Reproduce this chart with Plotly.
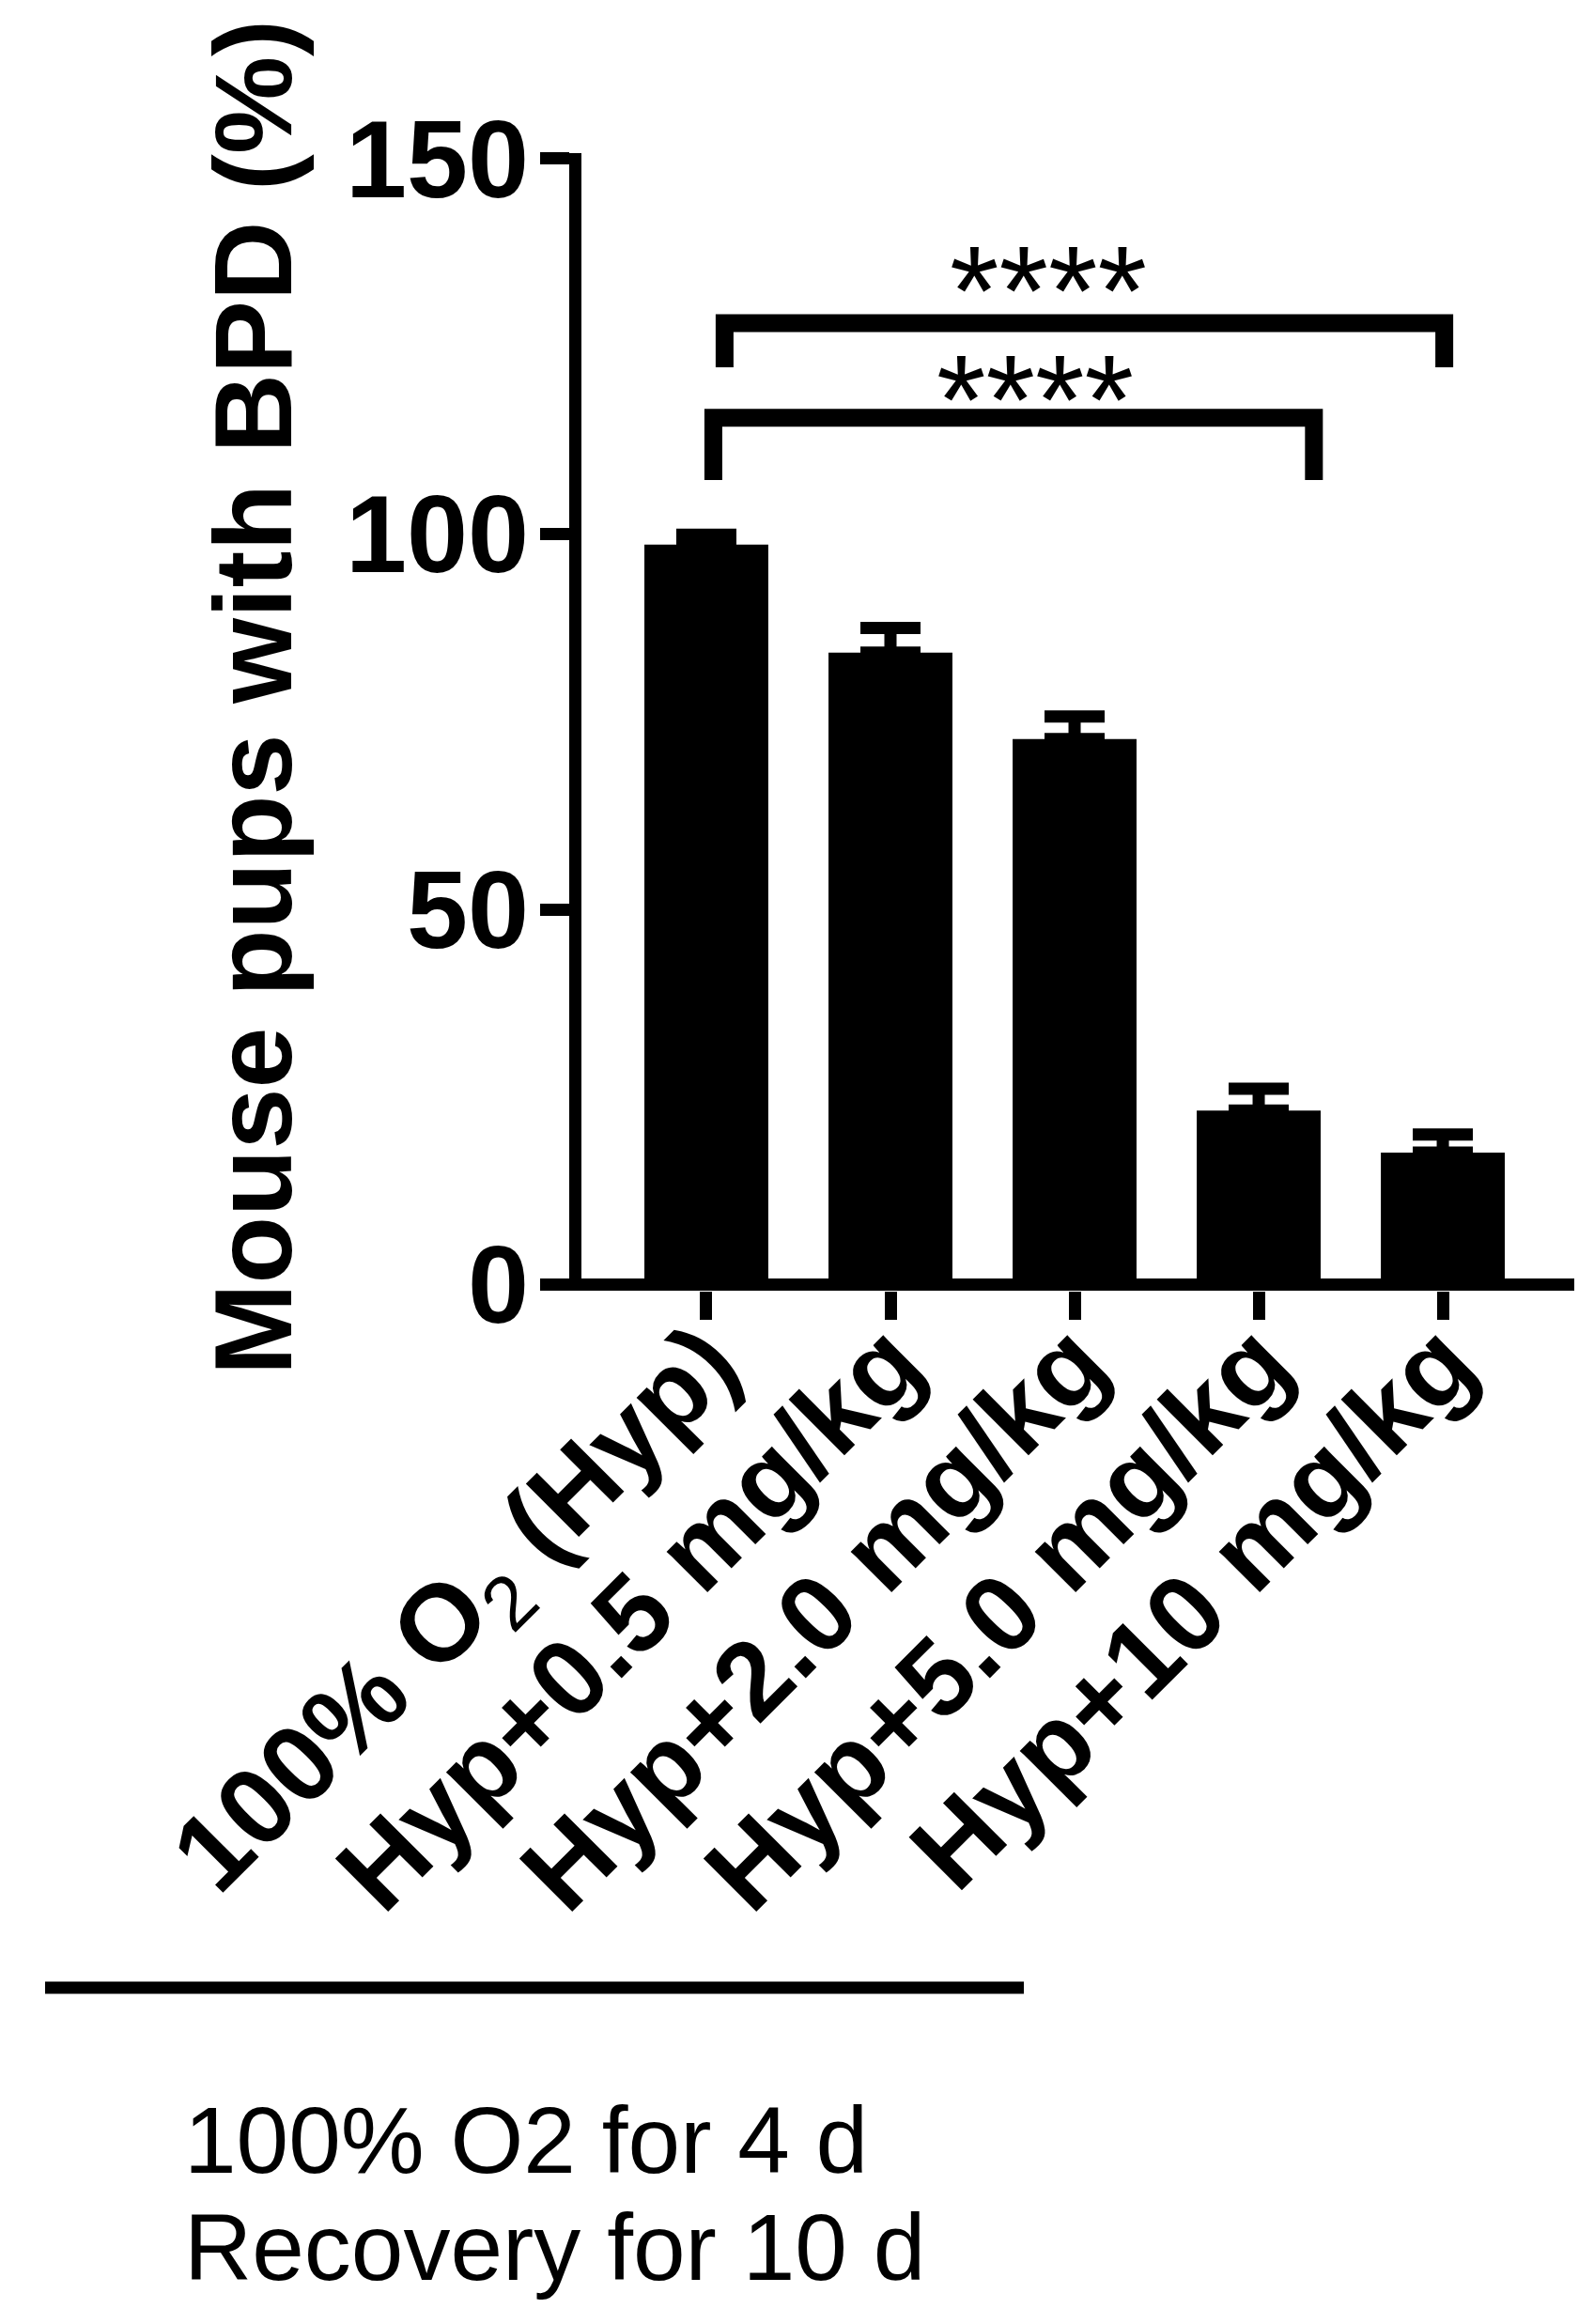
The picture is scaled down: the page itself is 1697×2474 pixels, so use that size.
import plotly.graph_objects as go

groups = ["100% O<sub><span style=\"font-weight:normal\">2</span></sub> (Hyp)",
          "Hyp+0.5 mg/kg", "Hyp+2.0 mg/kg", "Hyp+5.0 mg/kg", "Hyp+10 mg/kg"]
bpd_pct = [98.6, 84.2, 72.7, 23.2, 17.6]
bpd_err = [1.3, 3.3, 3.0, 2.9, 2.4]
y_ticks = [0, 50, 100, 150]
sig_labels = ["****", "****"]
footnote = ["100% O2 for 4 d", "Recovery for 10 d"]

FONT = "Liberation Sans, Arial, sans-serif"
W, H = 1697, 2474
L, R, T, B = 576, 29, 155, 1108
pw = W - L - R
ph = H - T - B
xpos = list(range(len(groups)))

fig = go.Figure()
fig.add_trace(go.Bar(
  x=xpos, y=bpd_pct, width=0.673,
  marker=dict(color="black", line=dict(width=0)),
  error_y=dict(type="data", symmetric=False, array=bpd_err,
               arrayminus=[0]*len(bpd_err),
               color="black", thickness=13, width=32),
))

# brackets (group coords / value coords)
brackets = [
  (0.099, 4.008, 128.1, 122.2, sig_labels[0], 1.857, 132.4),
  (0.038, 3.30, 115.5, 107.2, sig_labels[1], 1.786, 117.9),
]
for x0, x1, yh, yl, lab, xs, ys in brackets:
  fig.add_shape(type="path", xref="x", yref="y",
                path=f"M {x0},{yl} L {x0},{yh} L {x1},{yh} L {x1},{yl}",
                line=dict(color="black", width=19))
  fig.add_annotation(x=xs, y=ys, xref="x", yref="y", text=lab, showarrow=False,
                     yanchor="middle", font=dict(family=FONT, size=135, color="black"))

# y title
fig.add_annotation(xref="paper", yref="paper", x=(261 - L) / pw, y=(1366 - 735) / ph,
                   xanchor="center", yanchor="middle",
                   text="Mouse pups with BPD (%)", textangle=-90, showarrow=False,
                   font=dict(family=FONT, size=117, color="black", weight="bold"))

# footnote line and text
fig.add_shape(type="line", xref="paper", yref="paper",
              x0=(40 - L) / pw, x1=(1082 - L) / pw,
              y0=(1366 - 2108) / ph, y1=(1366 - 2108) / ph,
              line=dict(color="black", width=13))
for i, txt in enumerate(footnote):
  fig.add_annotation(xref="paper", yref="paper", x=(186 - L) / pw,
                     y=(1366 - (2270 + 114 * i)) / ph,
                     xanchor="left", yanchor="middle", text=txt, showarrow=False,
                     font=dict(family=FONT, size=100, color="black"))

fig.update_layout(
  width=W, height=H,
  margin=dict(l=L, r=R, t=T, b=B),
  paper_bgcolor="white", plot_bgcolor="white",
  showlegend=False,
  xaxis=dict(range=[-0.857, 4.714], tickvals=xpos, ticktext=groups,
             tickangle=-45, ticks="outside", ticklen=30, tickwidth=13, tickcolor="black",
             ticklabelstandoff=-68,
             showline=False, showgrid=False, zeroline=False,
             tickfont=dict(family=FONT, size=116, color="black", weight="bold")),
  yaxis=dict(range=[-0.81, 150.75], tickvals=y_ticks, anchor="free", position=(603.5 - L) / pw,
             ticks="outside", ticklen=31, tickwidth=13, tickcolor="black",
             ticklabelstandoff=-12,
             showline=True, linewidth=13, linecolor="black",
             showgrid=False, zeroline=True, zerolinewidth=13, zerolinecolor="black",
             tickfont=dict(family=FONT, size=117, color="black", weight="bold")),
)

fig.write_html("out.html")
